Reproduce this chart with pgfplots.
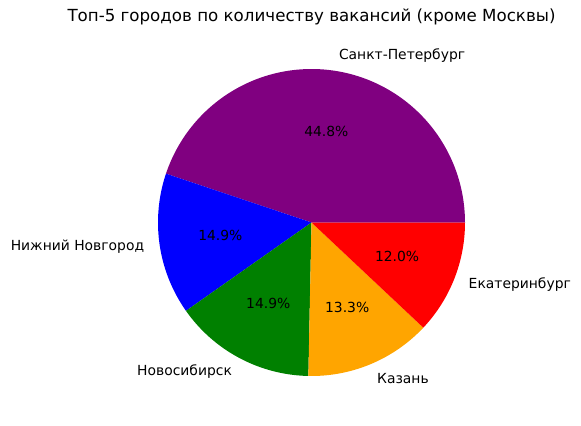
\documentclass[border=0pt]{standalone}
\usepackage{pgfplots}
\usepackage{pgfplotstable}
\pgfplotsset{compat=1.18}
\usepackage{fontspec}
\setmainfont{DejaVu Sans}
\definecolor{mpurple}{RGB}{128,0,128}
\definecolor{mblue}{RGB}{0,0,255}
\definecolor{mgreen}{RGB}{0,128,0}
\definecolor{morange}{RGB}{255,165,0}
\definecolor{mred}{RGB}{255,0,0}

\pgfplotstableread[col sep=comma]{
city,pct
Санкт-Петербург,44.8
Нижний Новгород,14.9
Новосибирск,14.9
Казань,13.3
Екатеринбург,12.0
}\piedata

\begin{document}
\begin{tikzpicture}
\pgfkeys{/pgf/number format/.cd, fixed, precision=1, zerofill, assume math mode=true}
\pgfplotstablegetelem{0}{pct}\of\piedata \let\pA\pgfplotsretval
\pgfplotstablegetelem{1}{pct}\of\piedata \let\pB\pgfplotsretval
\pgfplotstablegetelem{2}{pct}\of\piedata \let\pC\pgfplotsretval
\pgfplotstablegetelem{3}{pct}\of\piedata \let\pD\pgfplotsretval
\pgfplotstablegetelem{4}{pct}\of\piedata \let\pE\pgfplotsretval
\pgfplotstablegetelem{0}{city}\of\piedata \let\cA\pgfplotsretval
\pgfplotstablegetelem{1}{city}\of\piedata \let\cB\pgfplotsretval
\pgfplotstablegetelem{2}{city}\of\piedata \let\cC\pgfplotsretval
\pgfplotstablegetelem{3}{city}\of\piedata \let\cD\pgfplotsretval
\pgfplotstablegetelem{4}{city}\of\piedata \let\cE\pgfplotsretval
\pgfmathsetmacro\tot{\pA+\pB+\pC+\pD+\pE}
\pgfmathsetmacro\aA{0}
\pgfmathsetmacro\aB{\aA+360*\pA/\tot}
\pgfmathsetmacro\aC{\aB+360*\pB/\tot}
\pgfmathsetmacro\aD{\aC+360*\pC/\tot}
\pgfmathsetmacro\aE{\aD+360*\pD/\tot}
\pgfmathsetmacro\aF{360}
\pgfmathsetmacro\mA{(\aA+\aB)/2}
\pgfmathsetmacro\mB{(\aB+\aC)/2}
\pgfmathsetmacro\mC{(\aC+\aD)/2}
\pgfmathsetmacro\mD{(\aD+\aE)/2}
\pgfmathsetmacro\mE{(\aE+\aF)/2}
\def\cx{311.5}
\def\cy{202.5}
\def\R{153.5}
\def\pct#1{\pgfmathprintnumber[fixed,precision=1,zerofill,assume math mode=true]{#1}\%}
\begin{axis}[
  scale only axis, width=418.32pt, height=306pt,
  xmin=0, xmax=581, ymin=0, ymax=425,
  hide axis, clip=false,
]
\path (rel axis cs:0,0) rectangle (rel axis cs:1,1);
\addplot[fill=mpurple, draw=none, domain=\aA:\aB, samples=120, variable=\t] ({\cx+\R*cos(\t)},{\cy+\R*sin(\t)}) -- (axis cs:\cx,\cy) -- cycle;
\addplot[fill=mblue, draw=none, domain=\aB:\aC, samples=60, variable=\t] ({\cx+\R*cos(\t)},{\cy+\R*sin(\t)}) -- (axis cs:\cx,\cy) -- cycle;
\addplot[fill=mgreen, draw=none, domain=\aC:\aD, samples=60, variable=\t] ({\cx+\R*cos(\t)},{\cy+\R*sin(\t)}) -- (axis cs:\cx,\cy) -- cycle;
\addplot[fill=morange, draw=none, domain=\aD:\aE, samples=60, variable=\t] ({\cx+\R*cos(\t)},{\cy+\R*sin(\t)}) -- (axis cs:\cx,\cy) -- cycle;
\addplot[fill=mred, draw=none, domain=\aE:\aF, samples=60, variable=\t] ({\cx+\R*cos(\t)},{\cy+\R*sin(\t)}) -- (axis cs:\cx,\cy) -- cycle;
% city labels
\node[anchor=west, inner sep=0pt, font=\fontsize{10pt}{12pt}\selectfont] at (axis cs:{\cx+1.1*\R*cos(\mA)},{\cy+1.1*\R*sin(\mA)}) {\cA};
\node[anchor=east, inner sep=0pt, font=\fontsize{10pt}{12pt}\selectfont] at (axis cs:{\cx+1.1*\R*cos(\mB)},{\cy+1.1*\R*sin(\mB)}) {\cB};
\node[anchor=east, inner sep=0pt, font=\fontsize{10pt}{12pt}\selectfont] at (axis cs:{\cx+1.1*\R*cos(\mC)},{\cy+1.1*\R*sin(\mC)}) {\cC};
\node[anchor=west, inner sep=0pt, font=\fontsize{10pt}{12pt}\selectfont] at (axis cs:{\cx+1.1*\R*cos(\mD)},{\cy+1.1*\R*sin(\mD)}) {\cD};
\node[anchor=west, inner sep=0pt, font=\fontsize{10pt}{12pt}\selectfont] at (axis cs:{\cx+1.1*\R*cos(\mE)},{\cy+1.1*\R*sin(\mE)}) {\cE};
% percentage labels
\node[inner sep=0pt, font=\fontsize{10pt}{12pt}\selectfont] at (axis cs:{\cx+0.6*\R*cos(\mA)},{\cy+0.6*\R*sin(\mA)}) {\pct{\pA}};
\node[inner sep=0pt, font=\fontsize{10pt}{12pt}\selectfont] at (axis cs:{\cx+0.6*\R*cos(\mB)},{\cy+0.6*\R*sin(\mB)}) {\pct{\pB}};
\node[inner sep=0pt, font=\fontsize{10pt}{12pt}\selectfont] at (axis cs:{\cx+0.6*\R*cos(\mC)},{\cy+0.6*\R*sin(\mC)}) {\pct{\pC}};
\node[inner sep=0pt, font=\fontsize{10pt}{12pt}\selectfont] at (axis cs:{\cx+0.6*\R*cos(\mD)},{\cy+0.6*\R*sin(\mD)}) {\pct{\pD}};
\node[inner sep=0pt, font=\fontsize{10pt}{12pt}\selectfont] at (axis cs:{\cx+0.6*\R*cos(\mE)},{\cy+0.6*\R*sin(\mE)}) {\pct{\pE}};
% title
\node[inner sep=0pt, font=\fontsize{12pt}{14pt}\selectfont] at (axis cs:311.5,408) {Топ-5 городов по количеству вакансий (кроме Москвы)};
\end{axis}
\end{tikzpicture}
\end{document}
